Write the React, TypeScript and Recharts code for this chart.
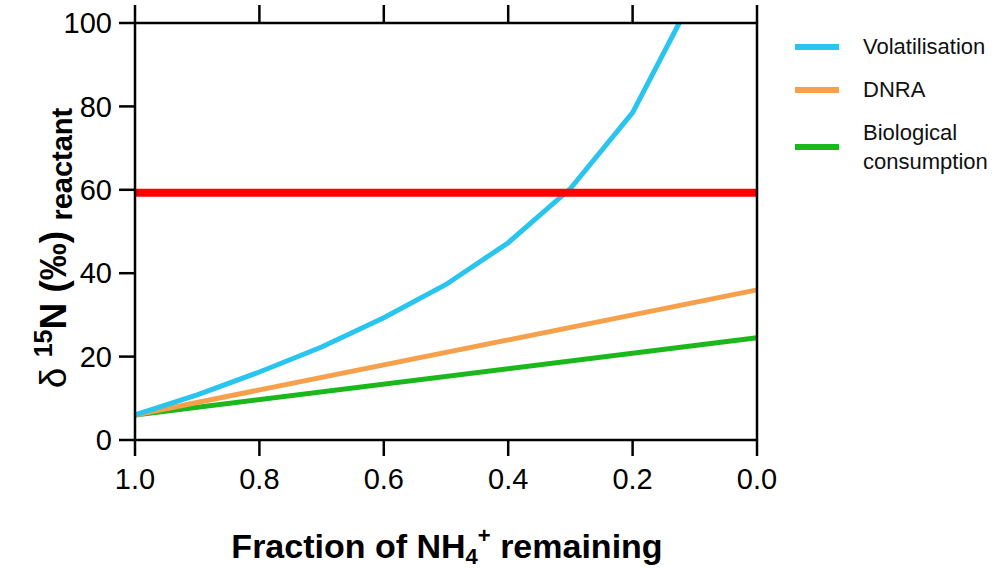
import { LineChart, Line, XAxis, YAxis, ReferenceLine } from "recharts";

// fraction of NH4+ remaining
const fractions = [1.0, 0.9, 0.8, 0.7, 0.6, 0.5, 0.4, 0.3, 0.2, 0.125, 0.0];
const volatilisation = [6, 10.8, 16.3, 22.3, 29.3, 37.3, 47.3, 60.3, 78.5, 100, null];
const dnra = [6, null, null, null, null, null, null, null, null, null, 36];
const biological = [6, null, null, null, null, null, null, null, null, null, 24.5];
const threshold = 59.3;

const xTicks = [0, 0.2, 0.4, 0.6, 0.8, 1.0];
const yTicks = [0, 20, 40, 60, 80, 100];

const data = fractions.map((f, i) => ({
  f,
  volatilisation: volatilisation[i],
  dnra: dnra[i],
  biological: biological[i],
}));

const legendItems = [
  { label: ["Volatilisation"], color: "#29c5ef" },
  { label: ["DNRA"], color: "#f7a04b" },
  { label: ["Biological", "consumption"], color: "#1bb81b" },
];

const font = "'Liberation Sans', Arial, sans-serif";
const tickStyle = { fontSize: 29, fill: "#000", fontFamily: font };

function YLabel() {
  return (
    <text
      transform="translate(66,248) rotate(-90)"
      textAnchor="middle"
      fontFamily={font}
      fontWeight="bold"
      fontSize={37}
      fill="#000"
    >
      <tspan fontWeight="normal">δ </tspan>
      <tspan fontSize={25} dy={-14}>15</tspan>
      <tspan dy={14}>N (‰) </tspan>
      <tspan fontSize={29} dy={6}>reactant</tspan>
    </text>
  );
}

function XLabel() {
  return (
    <text x={447} y={558} textAnchor="middle" fontFamily={font} fontWeight="bold" fontSize={34} fill="#000">
      <tspan>Fraction of NH</tspan>
      <tspan fontSize={22} dy={6}>4</tspan>
      <tspan fontSize={22} dy={-21}>+</tspan>
      <tspan dy={15}> remaining</tspan>
    </text>
  );
}

function Legend() {
  return (
    <div style={{ position: "absolute", left: 795, top: 32, fontFamily: font, fontSize: 22, color: "#111" }}>
      {legendItems.map((it) => (
        <div key={it.color} style={{ display: "flex", alignItems: "center", marginBottom: it.label.length > 1 ? 0 : 14 }}>
          <div style={{ width: 44, height: 6, background: it.color, marginRight: 24 }} />
          <div style={{ lineHeight: "29px" }}>
            {it.label.map((l) => (
              <div key={l}>{l}</div>
            ))}
          </div>
        </div>
      ))}
    </div>
  );
}

export default function App() {
  return (
    <div style={{ position: "fixed", left: 0, top: 0, width: 994, height: 569, background: "#fff" }}>
      <LineChart width={994} height={569} data={data} margin={{ top: 5, right: 217, bottom: 69, left: 75 }}>
        <XAxis
          dataKey="f"
          type="number"
          domain={[0, 1]}
          reversed
          ticks={xTicks}
          tickFormatter={(v: number) => v.toFixed(1)}
          tick={tickStyle}
          tickSize={16}
          tickMargin={12}
          height={60}
          stroke="#000"
          strokeWidth={2.5}
          interval={0}
        />
        <XAxis
          xAxisId="top"
          orientation="top"
          dataKey="f"
          type="number"
          domain={[0, 1]}
          reversed
          ticks={xTicks}
          tickFormatter={() => ""}
          tickSize={18}
          height={18}
          stroke="#000"
          strokeWidth={2.5}
          interval={0}
        />
        <YAxis
          domain={[0, 100]}
          ticks={yTicks}
          tick={tickStyle}
          tickSize={16}
          tickMargin={7}
          width={60}
          stroke="#000"
          strokeWidth={2.5}
          interval={0}
        />
        <YAxis
          yAxisId="right"
          orientation="right"
          domain={[0, 100]}
          ticks={yTicks}
          tickFormatter={() => ""}
          tickSize={16}
          width={20}
          stroke="#000"
          strokeWidth={2.5}
          interval={0}
        />
        <Line dataKey="biological" stroke="#1bb81b" strokeWidth={5} dot={false} connectNulls isAnimationActive={false} />
        <Line dataKey="dnra" stroke="#f7a04b" strokeWidth={5} dot={false} connectNulls isAnimationActive={false} />
        <Line dataKey="volatilisation" stroke="#29c5ef" strokeWidth={5} dot={false} isAnimationActive={false} />
        <ReferenceLine y={threshold} stroke="#ff0000" strokeWidth={8} />
        <YLabel />
        <XLabel />
      </LineChart>
      <Legend />
    </div>
  );
}
